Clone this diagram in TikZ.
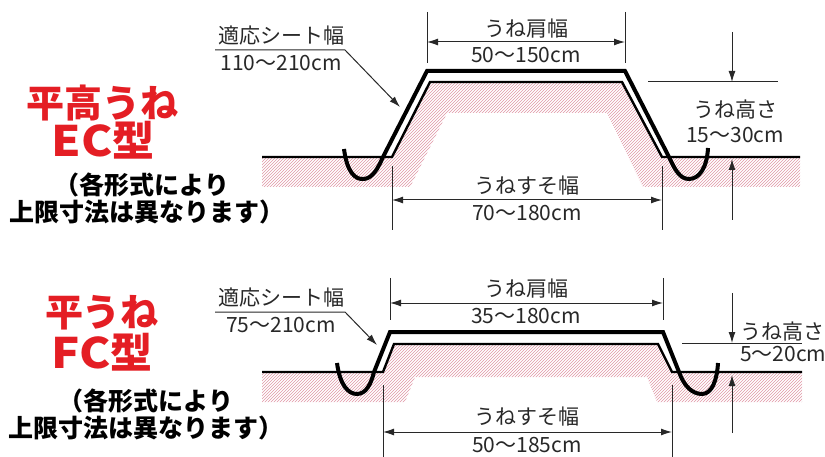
\documentclass[tikz,border=0pt]{standalone}
\usepackage{fontspec}
\setmainfont{Noto Sans CJK JP}
\usetikzlibrary{arrows.meta,patterns,positioning}
\definecolor{titlered}{RGB}{228,30,36}
\definecolor{hatchpink}{RGB}{224,150,165}
\definecolor{inkgray}{RGB}{40,40,40}
\tikzset{
    soil/.style = {draw, line width=2.4pt, line join=miter},
    sheet/.style = {draw, line width=4pt, line join=miter},
    hatchzone/.style = {pattern=north east lines, pattern color=hatchpink},
    dimline/.style = {draw=inkgray, line width=1pt},
    extline/.style = {draw=inkgray, line width=1pt},
    dimtext/.style = {text=inkgray, font=\fontsize{21}{23}\selectfont, inner sep=0pt},
    bigtitle/.style = {text=titlered, font=\fontsize{38}{40}\selectfont\bfseries, inner sep=0pt},
    typetitle/.style = {text=titlered, font=\fontsize{42}{44}\selectfont\bfseries, inner sep=0pt},
    note/.style = {text=black, font=\fontsize{25}{27}\selectfont\bfseries, inner sep=0pt}
}
\newcommand{\widelat}[1]{\scalebox{1.12}[1]{#1}}

\begin{document}
\begin{tikzpicture}[x=1pt, y=-1pt, >={Latex[length=11pt,width=7pt]}]
    \useasboundingbox (0,0) rectangle (825,457);
    % --- upper bed (EC)
    \node [bigtitle] (kindEC) at (103,103) {平高うね};
    \node [typetitle] (typeEC) at (103,140) {\widelat{EC}型};
    \node [note] (noteECa) at (142,185) {（各形式により};
    \node [note] (noteECb) at (147,212) {上限寸法は異なります）};
    \fill [hatchzone] (262,157) -- (392,157) -- (430,82) -- (622,82) -- (662,157) -- (800,157)
        -- (800,187) -- (643,187) -- (607,113) -- (447,113) -- (410,187) -- (262,187) -- cycle;
    \draw [soil] (262,157) -- (392,157) -- (430,82) -- (622,82) -- (662,157) -- (800,157);
    \draw [sheet] (344,149) .. controls (347,172) and (355,180) .. (364,179)
        .. controls (373,178) and (378,168) .. (383,157) -- (427,71) -- (625,71) -- (669,157)
        .. controls (675,170) and (680,179) .. (689,179) .. controls (699,179) and (707,168) .. (708,148);
    % sheet width
    \node [dimtext, anchor=west] (sheetECname) at (218,36) {適応シート幅};
    \coordinate (sheetECa) at (215,50);
    \coordinate (sheetECb) at (345,50);
    \coordinate (sheetECtip) at (400,107);
    \draw [dimline,->] (sheetECa) -- (sheetECb) -- (sheetECtip);
    \node [dimtext] (sheetECval) at (281,63) {110～210cm};
    % shoulder width
    \draw [extline] (427,12) -- (427,63);
    \draw [extline] (625,12) -- (625,63);
    \coordinate (topECl) at (427,42);
    \coordinate (topECr) at (625,42);
    \draw [dimline,<->] (topECl) -- (topECr);
    \node [dimtext] (topECname) at (526,29) {うね肩幅};
    \node [dimtext] (topECval) at (526,55) {50～150cm};
    % foot width
    \draw [extline] (392,166) -- (392,230);
    \draw [extline] (662,166) -- (662,230);
    \coordinate (footECl) at (392,200);
    \coordinate (footECr) at (662,200);
    \draw [dimline,<->] (footECl) -- (footECr);
    \node [dimtext] (footECname) at (527,186) {うねすそ幅};
    \node [dimtext] (footECval) at (527,213) {70～180cm};
    % height
    \draw [extline] (648,82) -- (778,82);
    \coordinate (hECa) at (732,32);
    \coordinate (hECb) at (732,82);
    \coordinate (hECc) at (732,220);
    \coordinate (hECd) at (732,159);
    \draw [dimline,->] (hECa) -- (hECb);
    \draw [dimline,->] (hECc) -- (hECd);
    \node [dimtext] (hECname) at (735,110) {うね高さ};
    \node [dimtext] (hECval) at (735,135) {15～30cm};

    % --- lower bed (FC)
    \node [bigtitle] (kindFC) at (102,313) {平うね};
    \node [typetitle] (typeFC) at (102,352) {\widelat{FC}型};
    \node [note] (noteFCa) at (146,401) {（各形式により};
    \node [note] (noteFCb) at (146,428) {上限寸法は異なります）};
    \fill [hatchzone] (262,372) -- (383,372) -- (394,344) -- (658,344) -- (672,372) -- (802,372)
        -- (802,402) -- (657,402) -- (647,377) -- (415,377) -- (405,402) -- (262,402) -- cycle;
    \draw [soil] (262,372) -- (383,372) -- (394,344) -- (658,344) -- (672,372) -- (802,372);
    \draw [sheet] (337,363) .. controls (340,385) and (348,394) .. (357,394)
        .. controls (366,394) and (371,384) .. (374,372) -- (390,332) -- (663,332) -- (679,372)
        .. controls (684,386) and (692,394) .. (702,394) .. controls (712,394) and (717,380) .. (718,363);
    % sheet width
    \node [dimtext, anchor=west] (sheetFCname) at (218,298) {適応シート幅};
    \coordinate (sheetFCa) at (215,312);
    \coordinate (sheetFCb) at (345,312);
    \coordinate (sheetFCtip) at (377,345);
    \draw [dimline,->] (sheetFCa) -- (sheetFCb) -- (sheetFCtip);
    \node [dimtext] (sheetFCval) at (281,325) {75～210cm};
    % shoulder width
    \draw [extline] (390,278) -- (390,320);
    \draw [extline] (663,278) -- (663,320);
    \coordinate (topFCl) at (390,303);
    \coordinate (topFCr) at (663,303);
    \draw [dimline,<->] (topFCl) -- (topFCr);
    \node [dimtext] (topFCname) at (526,289) {うね肩幅};
    \node [dimtext] (topFCval) at (526,316) {35～180cm};
    % foot width
    \draw [extline] (383,385) -- (383,457);
    \draw [extline] (672,385) -- (672,457);
    \coordinate (footFCl) at (383,432);
    \coordinate (footFCr) at (672,432);
    \draw [dimline,<->] (footFCl) -- (footFCr);
    \node [dimtext] (footFCname) at (527,417) {うねすそ幅};
    \node [dimtext] (footFCval) at (527,445) {50～185cm};
    % height
    \draw [extline] (682,343) -- (802,343);
    \coordinate (hFCa) at (732,293);
    \coordinate (hFCb) at (732,343);
    \coordinate (hFCc) at (732,433);
    \coordinate (hFCd) at (732,375);
    \draw [dimline,->] (hFCa) -- (hFCb);
    \draw [dimline,->] (hFCc) -- (hFCd);
    \node [dimtext, anchor=west] (hFCname) at (740,332) {うね高さ};
    \node [dimtext, anchor=west] (hFCval) at (740,354) {5～20cm};
\end{tikzpicture}
\end{document}
